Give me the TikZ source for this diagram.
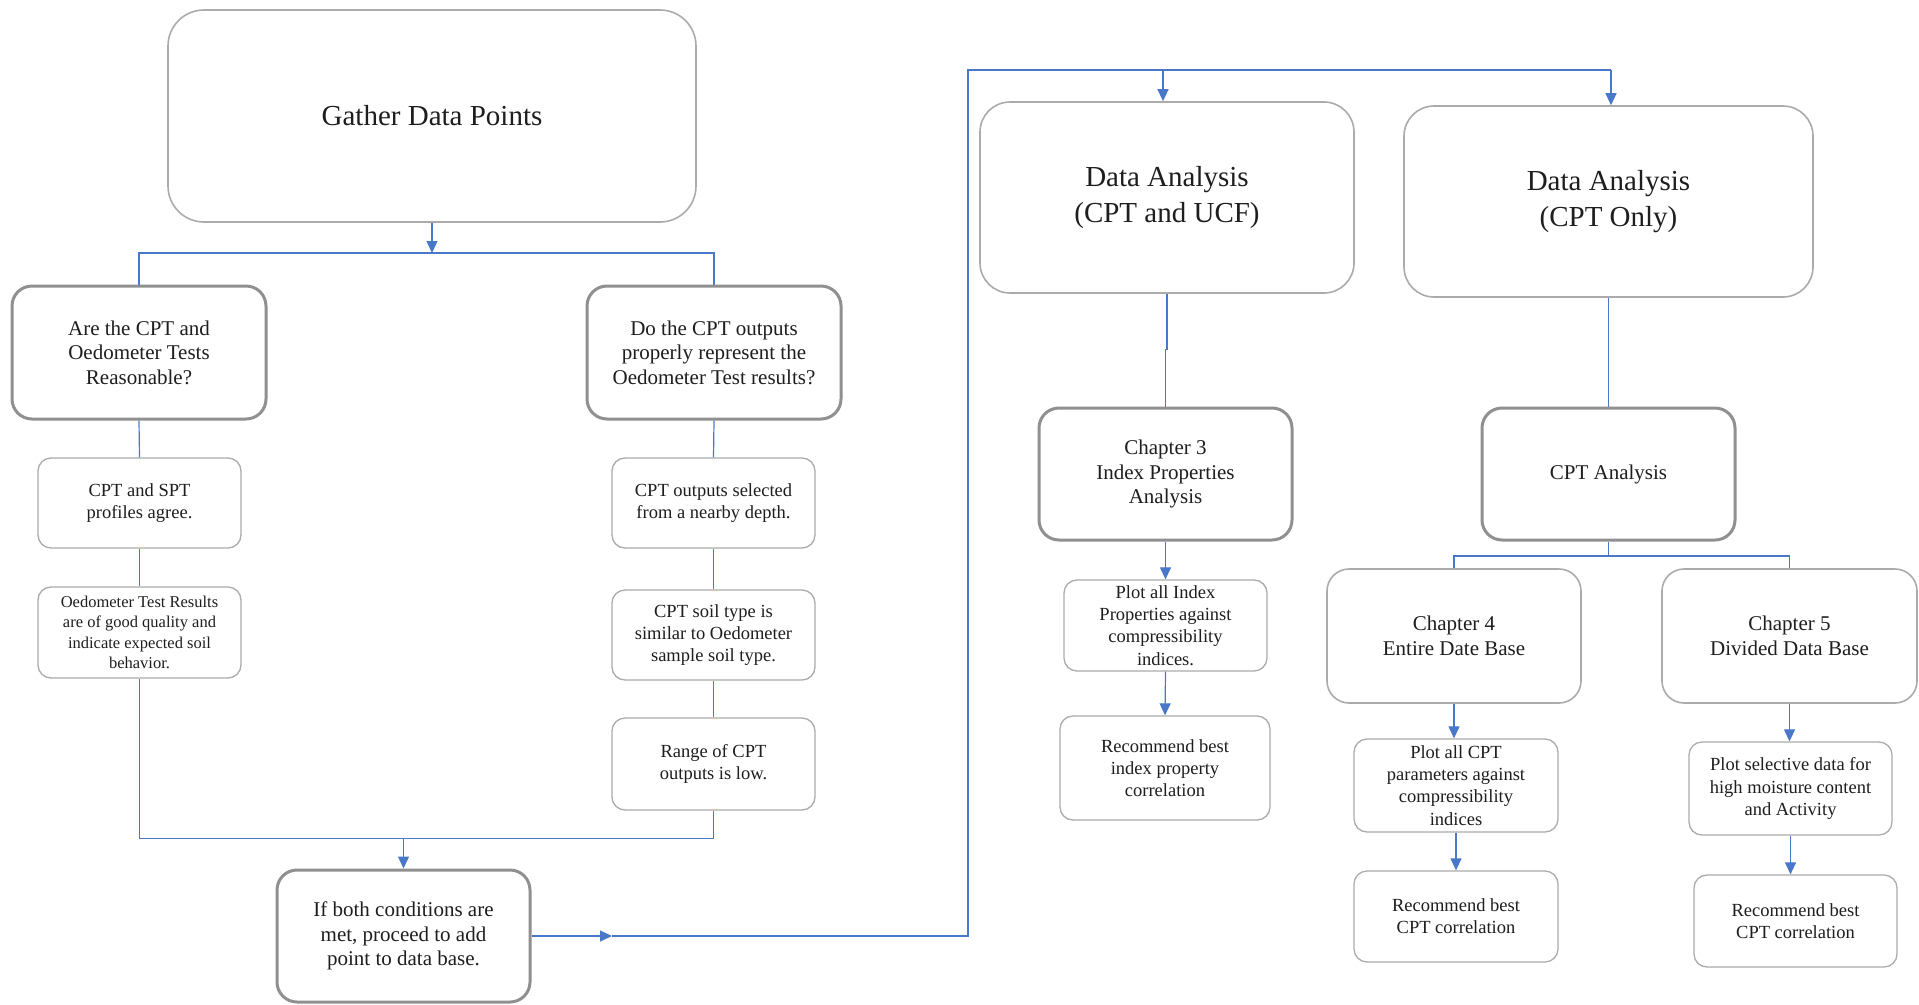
\documentclass[tikz,border=0pt]{standalone}
\usepackage{fontspec}
\setmainfont{Liberation Serif}
\usetikzlibrary{arrows.meta}
\definecolor{conblue}{HTML}{4A78C8}
\definecolor{thinbd}{HTML}{ABABAB}
\definecolor{thickbd}{HTML}{909090}
\definecolor{txt}{HTML}{1E1E1E}
\tikzset{
  boxbase/.style={rectangle, align=center, inner sep=0pt, text=txt, fill=white},
  bigbox/.style={boxbase, draw=thinbd, line width=1.6pt, rounded corners=36pt, font=\fontsize{29}{35.5}\selectfont},
  qbox/.style={boxbase, draw=thickbd, line width=3pt, rounded corners=20pt, minimum width=254pt, minimum height=133pt, font=\fontsize{21}{24.5}\selectfont},
  chbox/.style={boxbase, draw=thinbd, line width=1.6pt, rounded corners=22pt, minimum width=254pt, minimum height=134pt, font=\fontsize{21}{24.5}\selectfont},
  sbox/.style={boxbase, draw=thinbd, line width=1.3pt, rounded corners=13pt, minimum width=203pt, minimum height=91pt, font=\fontsize{18.5}{22.3}\selectfont},
  conn/.style={draw=conblue, line width=1.2pt},
  arr/.style={conn, -{Triangle[width=11pt,length=12pt]}}
}
\begin{document}
\begin{tikzpicture}[x=1pt,y=-1pt]
\useasboundingbox[fill=white] (0,0) rectangle (1919,1004);

% nodes
\node[bigbox, minimum width=528pt, minimum height=212pt] (gather) at (432,116) {Gather Data Points};
\node[qbox] (q1) at (139,352.5) {Are the CPT and\\Oedometer Tests\\Reasonable?};
\node[qbox] (q2) at (714,352.5) {Do the CPT outputs\\properly represent the\\Oedometer Test results?};
\node[sbox, minimum height=90pt] (a1) at (139.5,503) {CPT and SPT\\profiles agree.};
\node[sbox, font=\fontsize{16.5}{20.5}\selectfont] (a2) at (139.5,632.5) {Oedometer Test Results\\are of good quality and\\indicate expected soil\\behavior.};
\node[sbox, minimum height=90pt] (b1) at (713.5,503) {CPT outputs selected\\from a nearby depth.};
\node[sbox, minimum height=90pt] (b2) at (713.5,635) {CPT soil type is\\similar to Oedometer\\sample soil type.};
\node[sbox, minimum height=92pt] (b3) at (713.5,764) {Range of CPT\\outputs is low.};
\node[qbox, minimum width=253pt, minimum height=132pt] (fin) at (403.5,936) {If both conditions are\\met, proceed to add\\point to data base.};

\node[bigbox, rounded corners=30pt, minimum width=374pt, minimum height=191pt] (da1) at (1167,197.5) {Data Analysis\\(CPT and UCF)};
\node[bigbox, rounded corners=30pt, minimum width=409pt, minimum height=191pt] (da2) at (1608.5,201.5) {Data Analysis\\(CPT Only)};
\node[qbox, minimum width=253pt, minimum height=132pt] (ch3) at (1165.5,474) {Chapter 3\\Index Properties\\Analysis};
\node[qbox, minimum width=253pt, minimum height=132pt] (cpt) at (1608.5,474) {CPT Analysis};
\node[sbox] (p3) at (1165.5,625.5) {Plot all Index\\Properties against\\compressibility\\indices.};
\node[sbox, minimum width=210pt, minimum height=104pt] (r3) at (1165,768) {Recommend best\\index property\\correlation};
\node[chbox] (ch4) at (1454,636) {Chapter 4\\Entire Date Base};
\node[chbox, minimum width=255pt] (ch5) at (1789.5,636) {Chapter 5\\Divided Data Base};
\node[sbox, minimum width=204pt, minimum height=93pt] (p4) at (1456,785.5) {Plot all CPT\\parameters against\\compressibility\\indices};
\node[sbox, minimum width=204pt] (r4) at (1456,916.5) {Recommend best\\CPT correlation};
\node[sbox, minimum height=93pt] (p5) at (1790.5,788.5) {Plot selective data for\\high moisture content\\and Activity};
\node[sbox, minimum height=92pt] (r5) at (1795.5,921) {Recommend best\\CPT correlation};

% junction coordinates
\coordinate (j1) at (432,253);
\coordinate (j2) at (403.5,838.5);
\coordinate (m1) at (612,936);
\coordinate (c1) at (968,936);
\coordinate (t1) at (1163,70);
\coordinate (t2) at (1611,70);
\coordinate (j3) at (1608.5,556);

% left part
\draw[arr] (gather.south) -- (j1);
\draw[conn] (q1.north) |- (j1) -| (q2.north);
\draw[conn] (q1.south) -- (a1.north);
\draw[conn] (a1.south) -- (a2.north);
\draw[conn] (q2.south) -- (b1.north);
\draw[conn] (b1.south) -- (b2.north);
\draw[conn] (b2.south) -- (b3.north);
\draw[conn] (a2.south) |- (j2) -| (b3.south);
\draw[arr] (j2) -- (fin.north);

% link to right part
\draw[arr] (fin.east) -- (m1);
\draw[conn] (m1) -- (c1) |- (t1) -- (t2);
\draw[arr] (t1) -- (t1 |- da1.north);
\draw[arr] (t2) -- (t2 |- da2.north);

% right part
\draw[conn] (da1.south) -- ++(0,56) -| (ch3.north);
\draw[conn] (da2.south) -- ++(0,58) -| (cpt.north);
\draw[arr] (ch3.south) -- (p3.north);
\draw[arr] (p3.south) -- (r3.north);
\draw[conn] (cpt.south) -- (j3);
\draw[conn] (ch4.north) |- (j3) -| (ch5.north);
\draw[arr] (ch4.south) -- (ch4.south |- p4.north);
\draw[arr] (p4.south) -- (r4.north);
\draw[arr] (ch5.south) -- (ch5.south |- p5.north);
\draw[arr] (p5.south) -- (p5.south |- r5.north);
\end{tikzpicture}
\end{document}
